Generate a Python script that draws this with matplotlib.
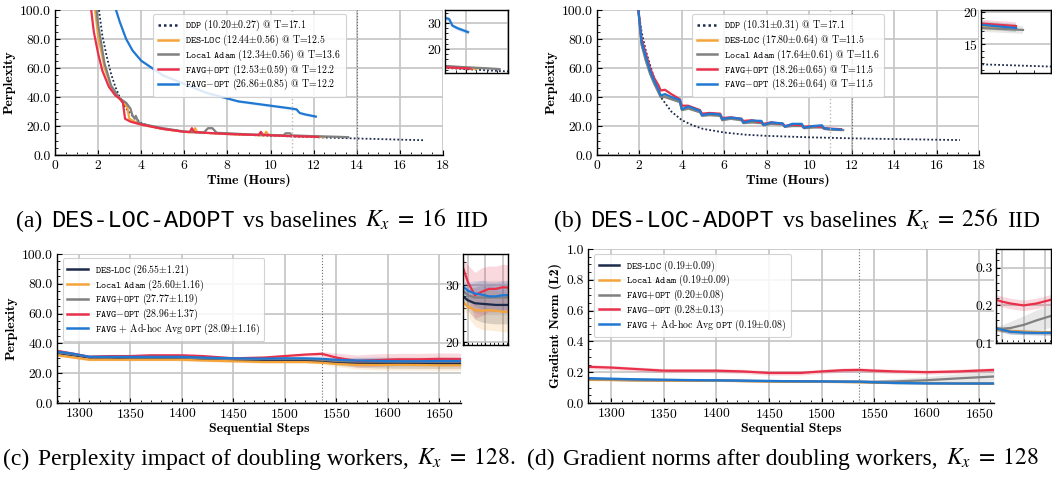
import numpy as np
import matplotlib
matplotlib.use("Agg")
import matplotlib.pyplot as plt
from matplotlib.ticker import AutoMinorLocator, FormatStrFormatter, MultipleLocator, NullFormatter

plt.rcParams['font.family'] = ['cmr10', 'DejaVu Serif']
plt.rcParams['mathtext.fontset'] = 'cm'
plt.rcParams['axes.unicode_minus'] = False
plt.rcParams['axes.formatter.use_mathtext'] = True

C_NAVY = '#1c2b4b'
C_ORANGE = '#f5a43a'
C_GRAY = '#808080'
C_RED = '#e8304b'
C_BLUE = '#1f78d2'

# ---------------- (a) K_x = 16 IID ----------------
a_ddp_t = [2.04, 2.2, 2.4, 2.6, 2.8, 3.0, 3.3, 3.6, 4.0, 4.5, 5.0, 6.0, 7.0, 8.0, 9.0, 10.0, 11.0, 12.0, 13.0, 14.0, 15.0, 16.0, 17.1]
a_ddp_v = [100, 82, 68, 56, 47, 40, 32, 27, 22, 19.5, 18, 16, 15.2, 14.5, 13.8, 13.3, 12.8, 12.3, 11.8, 11.4, 11.0, 10.6, 10.2]
a_des_t = [1.86, 2.0, 2.3, 2.6, 2.9, 3.2, 3.35, 3.45, 3.7, 4.0, 4.5, 5.0, 5.5, 6.0, 6.4, 6.5, 6.6, 7.0, 8.0, 9.0, 9.7, 9.8, 9.9, 10.0, 11.0, 12.0, 12.5]
a_des_v = [100, 82, 60, 47, 40, 36, 33, 25, 23, 21, 19.5, 18, 17, 16, 15.5, 18.5, 15.8, 15.3, 14.5, 14, 13.5, 16, 13.8, 13.8, 13.2, 12.8, 12.4]
a_loc_t = [1.93, 2.0, 2.3, 2.6, 3.0, 3.3, 3.5, 3.6, 3.7, 3.75, 3.85, 4.0, 5.0, 6.0, 6.9, 7.1, 7.3, 7.5, 8.0, 9.0, 10.0, 10.6, 10.7, 10.9, 11.0, 12.0, 13.0, 13.6]
a_loc_v = [100, 90, 63, 48, 39, 36, 32, 27, 25, 27, 23, 21.5, 18.5, 16.2, 15.5, 18.5, 18.5, 15.3, 15, 14.2, 13.8, 13.5, 15, 15, 13.5, 13, 12.6, 12.3]
a_fp_t = [1.68, 1.8, 2.0, 2.2, 2.5, 2.8, 3.0, 3.15, 3.25, 3.5, 4.0, 4.5, 5.0, 6.0, 6.25, 6.35, 6.45, 7.0, 8.0, 9.0, 9.45, 9.55, 9.65, 10.0, 11.0, 12.0, 12.2]
a_fp_v = [100, 85, 70, 58, 47, 41, 39, 36, 25, 23, 21, 19.5, 18, 16, 15.8, 18.5, 15.8, 15.3, 14.5, 14, 13.8, 16, 13.8, 13.6, 13, 12.6, 12.5]
a_fm_t = [2.83, 3.0, 3.3, 3.6, 4.0, 4.5, 5.0, 5.5, 6.0, 6.5, 7.0, 7.5, 8.0, 8.5, 9.0, 9.5, 10.0, 10.5, 11.0, 11.2, 11.35, 11.6, 12.1]
a_fm_v = [100, 92, 80, 72, 65, 60, 55, 52, 49, 46, 43, 41, 39, 37, 36, 35, 34, 33, 32, 31.5, 29, 28, 26.5]
a_labels = [r"$\mathtt{DDP}$ (10.20$\pm$0.27) @ T=17.1",
            r"$\mathtt{DES‐LOC}$ (12.44$\pm$0.56) @ T=12.5",
            r"$\mathtt{Local\ Adam}$ (12.34$\pm$0.56) @ T=13.6",
            r"$\mathtt{FAVG{+}OPT}$ (12.53$\pm$0.59) @ T=12.2",
            r"$\mathtt{FAVG{-}OPT}$ (26.86$\pm$0.85) @ T=12.2"]
a_band = [0.2, 0.5, 0.5, 0.5, 0.8]

# ---------------- (b) K_x = 256 IID ----------------
b_ddp_t = [1.95, 2.1, 2.3, 2.5, 2.8, 3.0, 3.5, 4.0, 4.5, 5.0, 6.0, 7.0, 8.0, 10.0, 12.0, 14.0, 17.1]
b_ddp_v = [100, 85, 72, 62, 48, 40, 30, 24, 20.5, 18, 15.5, 14, 13.2, 12.2, 11.5, 11, 10.3]
b_t = [1.95, 2.1, 2.3, 2.5, 2.7, 2.9, 3.0, 3.2, 3.5, 3.9, 4.0, 4.3, 4.85, 4.95, 5.3, 5.8, 5.9, 6.3, 6.8, 6.9,
       7.3, 7.75, 7.85, 8.2, 8.75, 8.85, 9.2, 9.65, 9.75, 10.2, 10.6, 10.7, 11.0, 11.5]
b_des_v = [100, 77, 66, 57, 50, 44, 40.5, 41, 39, 37, 31.5, 32.5, 30, 27.5, 28, 27.5, 24.5, 25.5, 24.5, 22.5,
           23, 22.5, 21, 22, 21.5, 19.8, 20.5, 20.5, 19, 19.5, 19.5, 18.3, 17.8, 17.5]
b_loc_v = [100, 76, 65, 56, 49, 43, 40, 40, 38.5, 36.5, 31, 32, 29.5, 27, 27.5, 27, 24, 25, 24, 22,
           22.5, 22, 20.5, 21.5, 21, 19.5, 20, 20, 18.5, 19, 19, 18, 17.5, 17.2]
b_fp_v = [100, 80, 70, 60, 53, 48, 44.5, 45, 42, 38.5, 34, 34, 31, 28.5, 29, 28.5, 25.5, 26, 25, 23.5,
          24, 22.5, 21.5, 22.5, 21.5, 20, 21, 20.5, 19.5, 20, 19.5, 18.5, 18.2, 17.8]
b_fm_v = [100, 78, 68, 58, 51, 45, 41, 42, 40, 38, 31.5, 33.5, 30.5, 27.5, 28.5, 28, 24.8, 25.8, 25, 22.3,
          23.8, 23.5, 20.7, 22.5, 21.8, 19.5, 21.5, 21.5, 18.8, 20, 20.5, 18.5, 18, 17.5]
b_labels = [r"$\mathtt{DDP}$ (10.31$\pm$0.31) @ T=17.1",
            r"$\mathtt{DES‐LOC}$ (17.80$\pm$0.64) @ T=11.5",
            r"$\mathtt{Local\ Adam}$ (17.64$\pm$0.61) @ T=11.6",
            r"$\mathtt{FAVG{+}OPT}$ (18.26$\pm$0.65) @ T=11.5",
            r"$\mathtt{FAVG{-}OPT}$ (18.26$\pm$0.64) @ T=11.5"]
b_band = [0.2, 0.6, 0.6, 0.6, 0.6]

# ---------------- (c) perplexity, doubling workers ----------------
c_steps = [1279, 1295, 1310, 1330, 1350, 1370, 1400, 1420, 1450, 1480, 1500, 1520, 1536, 1550, 1570, 1590, 1610, 1630, 1650, 1671]
c_des = [33.5, 32, 30.5, 30.5, 30, 30, 30, 29.5, 29, 28.5, 28.5, 28.5, 28.0, 27.3, 26.8, 26.7, 26.6, 26.5, 26.5, 26.5]
c_loc = [32, 30.5, 29, 29, 29, 29, 29, 28.5, 28, 27.5, 27.5, 27.5, 27.0, 26.2, 25.6, 25.5, 25.6, 25.5, 25.3, 25.3]
c_fp = [34, 32.5, 31, 31, 30.5, 30.5, 30.5, 30, 29.5, 29.5, 29.5, 29.5, 29.0, 28.2, 27.8, 27.8, 27.8, 27.8, 27.8, 27.8]
c_fm = [35, 33, 31, 31.5, 31.5, 32, 32, 31.5, 30, 30.5, 31.5, 32.5, 33.0, 30.5, 28.2, 28.8, 29.3, 29.3, 29.6, 29.5]
c_adhoc = [34.5, 33, 31, 31, 31, 31, 31, 30.5, 30, 29.8, 30, 30, 29.7, 29, 28.5, 28.3, 28, 28, 28.2, 28.2]
c_des_sd = [0.8, 0.8, 0.8, 0.8, 0.8, 0.8, 0.8, 0.8, 0.8, 0.8, 0.8, 0.8, 0.9, 1.8, 2.8, 3.2, 3.3, 3.3, 3.3, 3.3]
c_loc_sd = [0.8, 0.8, 0.8, 0.8, 0.8, 0.8, 0.8, 0.8, 0.8, 0.8, 0.8, 0.8, 0.9, 1.8, 2.8, 3.3, 3.5, 3.5, 3.5, 3.5]
c_fp_sd = [0.8, 0.8, 0.8, 0.8, 0.8, 0.8, 0.8, 0.8, 0.8, 0.8, 0.8, 0.8, 0.9, 1.8, 2.6, 3.0, 3.0, 3.0, 3.0, 3.0]
c_fm_sd = [1.0, 1.0, 1.0, 1.0, 1.0, 1.0, 1.0, 1.0, 1.0, 1.0, 1.0, 1.0, 1.5, 3.0, 4.0, 4.2, 4.0, 4.0, 4.0, 4.0]
c_adhoc_sd = [0.8, 0.8, 0.8, 0.8, 0.8, 0.8, 0.8, 0.8, 0.8, 0.8, 0.8, 0.8, 0.9, 1.5, 2.2, 2.5, 2.5, 2.5, 2.5, 2.5]
c_labels = [r"$\mathtt{DES‐LOC}$ (26.55$\pm$1.21)",
            r"$\mathtt{Local\ Adam}$ (25.60$\pm$1.16)",
            r"$\mathtt{FAVG{+}OPT}$ (27.77$\pm$1.19)",
            r"$\mathtt{FAVG{-}OPT}$ (28.96$\pm$1.37)",
            r"$\mathtt{FAVG}$ + Ad-hoc Avg $\mathtt{OPT}$ (28.09$\pm$1.16)"]

# ---------------- (d) gradient norms ----------------
d_steps = [1278, 1300, 1325, 1350, 1375, 1400, 1425, 1450, 1480, 1500, 1520, 1536, 1550, 1570, 1600, 1630, 1664]
d_des = [0.152, 0.150, 0.148, 0.147, 0.146, 0.145, 0.143, 0.141, 0.139, 0.138, 0.137, 0.136, 0.134, 0.131, 0.129, 0.128, 0.127]
d_loc = [0.150, 0.149, 0.147, 0.146, 0.145, 0.144, 0.142, 0.140, 0.138, 0.137, 0.136, 0.135, 0.134, 0.132, 0.130, 0.129, 0.128]
d_fp = [0.155, 0.153, 0.151, 0.150, 0.148, 0.147, 0.145, 0.143, 0.141, 0.140, 0.140, 0.140, 0.138, 0.140, 0.148, 0.160, 0.172]
d_fm = [0.235, 0.230, 0.220, 0.210, 0.210, 0.210, 0.205, 0.195, 0.195, 0.205, 0.213, 0.215, 0.210, 0.205, 0.200, 0.205, 0.215]
d_adhoc = [0.162, 0.158, 0.154, 0.151, 0.149, 0.147, 0.145, 0.143, 0.141, 0.140, 0.138, 0.138, 0.135, 0.130, 0.128, 0.127, 0.127]
d_small_sd = [0.004, 0.004, 0.004, 0.004, 0.004, 0.004, 0.004, 0.004, 0.004, 0.004, 0.004, 0.004, 0.005, 0.006, 0.006, 0.006, 0.006]
d_fp_sd = [0.004, 0.004, 0.004, 0.004, 0.004, 0.004, 0.004, 0.004, 0.004, 0.004, 0.004, 0.005, 0.010, 0.018, 0.024, 0.028, 0.030]
d_fm_sd = [0.014, 0.014, 0.014, 0.014, 0.014, 0.014, 0.014, 0.014, 0.014, 0.014, 0.014, 0.014, 0.014, 0.014, 0.014, 0.014, 0.014]
d_labels = [r"$\mathtt{DES‐LOC}$ (0.19$\pm$0.09)",
            r"$\mathtt{Local\ Adam}$ (0.19$\pm$0.09)",
            r"$\mathtt{FAVG{+}OPT}$ (0.20$\pm$0.08)",
            r"$\mathtt{FAVG{-}OPT}$ (0.28$\pm$0.13)",
            r"$\mathtt{FAVG}$ + Ad-hoc Avg $\mathtt{OPT}$ (0.19$\pm$0.08)"]

W, H = 1052, 483
TICK_FS = 9.8
LEG_FS = 7.1
LAB_FS = 10


def fpos(left, top, right, bottom):
    # pixel box -> figure fraction
    return [left / W, 1 - bottom / H, (right - left) / W, (bottom - top) / H]


def style_main(ax, xminor, yminor):
    ax.grid(True, color='#c4c4c4', lw=1.2, zorder=0)
    ax.set_axisbelow(True)
    for s in ['top', 'right']:
        ax.spines[s].set_visible(False)
    for s in ['left', 'bottom']:
        ax.spines[s].set_linewidth(1.0)
    ax.xaxis.set_minor_locator(AutoMinorLocator(xminor))
    ax.yaxis.set_minor_locator(AutoMinorLocator(yminor))
    ax.tick_params(which='both', direction='in', top=False, right=False, labelsize=TICK_FS, pad=3)
    ax.tick_params(which='major', length=3.5)
    ax.tick_params(which='minor', length=2)


def style_inset(ax, ymajor, yminor, xmajor):
    ax.grid(True, color='#c4c4c4', lw=1.2, zorder=0)
    ax.set_axisbelow(True)
    for s in ax.spines.values():
        s.set_linewidth(1.0)
    ax.yaxis.set_major_locator(MultipleLocator(ymajor))
    ax.yaxis.set_minor_locator(AutoMinorLocator(yminor))
    ax.xaxis.set_major_locator(MultipleLocator(xmajor))
    ax.xaxis.set_minor_locator(AutoMinorLocator(4))
    ax.xaxis.set_major_formatter(NullFormatter())
    ax.tick_params(which='both', direction='in', labelsize=TICK_FS, pad=2)
    ax.tick_params(which='major', length=3)
    ax.tick_params(which='minor', length=2)


def draw_curves(ax, series):
    for t, v, band, color, ls, label in series:
        t = np.array(t)
        v = np.array(v, dtype=float)
        band = np.array(band, dtype=float)
        if ls == ':':
            ax.plot(t, v, color=color, ls=(0, (1, 1.2)), lw=1.3, label=label)
        else:
            ax.fill_between(t, v - band, v + band, color=color, alpha=0.18, lw=0)
            ax.plot(t, v, color=color, lw=1.6, label=label)


def add_legend(ax, anchor):
    leg = ax.legend(loc='upper left', bbox_to_anchor=anchor, fontsize=LEG_FS, frameon=True,
                    fancybox=True, framealpha=0.85, edgecolor='#cccccc', borderaxespad=0,
                    labelspacing=-0.05, handlelength=2.1, handletextpad=0.7, borderpad=0.45)
    leg.get_frame().set_linewidth(0.8)
    for line in leg.get_lines():
        line.set_linewidth(1.8)
    return leg


fig = plt.figure(figsize=(W / 100, H / 100), dpi=100)

# ---- panel (a)
a_series = [
    (a_ddp_t, a_ddp_v, [a_band[0]] * len(a_ddp_t), C_NAVY, ':', a_labels[0]),
    (a_des_t, a_des_v, [a_band[1]] * len(a_des_t), C_ORANGE, '-', a_labels[1]),
    (a_loc_t, a_loc_v, [a_band[2]] * len(a_loc_t), C_GRAY, '-', a_labels[2]),
    (a_fp_t, a_fp_v, [a_band[3]] * len(a_fp_t), C_RED, '-', a_labels[3]),
    (a_fm_t, a_fm_v, [a_band[4]] * len(a_fm_t), C_BLUE, '-', a_labels[4]),
]
ax_a = fig.add_axes(fpos(55, 10, 443, 155))
draw_curves(ax_a, a_series)
ax_a.axvline(11, color='#b8b8b8', ls=':', lw=1.0)
ax_a.axvline(14, color='#707070', ls=':', lw=0.8)
ax_a.set_xlim(0, 18)
ax_a.set_ylim(0, 100)
ax_a.xaxis.set_major_locator(MultipleLocator(2))
ax_a.yaxis.set_major_locator(MultipleLocator(20))
ax_a.yaxis.set_major_formatter(FormatStrFormatter('%.1f'))
style_main(ax_a, 4, 4)
ax_a.set_xlabel('Time (Hours)', fontfamily='cmb10', fontsize=LAB_FS, labelpad=1)
ax_a.set_ylabel('Perplexity', fontfamily='cmb10', fontsize=LAB_FS, labelpad=3)
add_legend(ax_a, (0.253, 0.975))

ins_a = fig.add_axes(fpos(445, 10, 508, 73))
draw_curves(ins_a, a_series)
ins_a.set_xlim(11, 14)
ins_a.set_ylim(10.8, 35)
style_inset(ins_a, 10, 5, 2)

# ---- panel (b)
b_series = [
    (b_ddp_t, b_ddp_v, [b_band[0]] * len(b_ddp_t), C_NAVY, ':', b_labels[0]),
    (b_t, b_des_v, [b_band[1]] * len(b_t), C_ORANGE, '-', b_labels[1]),
    (b_t[:-1] + [11.6], b_loc_v, [b_band[2]] * len(b_t), C_GRAY, '-', b_labels[2]),
    (b_t, b_fp_v, [b_band[3]] * len(b_t), C_RED, '-', b_labels[3]),
    (b_t, b_fm_v, [b_band[4]] * len(b_t), C_BLUE, '-', b_labels[4]),
]
ax_b = fig.add_axes(fpos(597, 10, 979, 155))
draw_curves(ax_b, b_series)
ax_b.axvline(11, color='#b8b8b8', ls=':', lw=1.0)
ax_b.axvline(12, color='#707070', ls=':', lw=0.8)
ax_b.set_xlim(0, 18)
ax_b.set_ylim(0, 100)
ax_b.xaxis.set_major_locator(MultipleLocator(2))
ax_b.yaxis.set_major_locator(MultipleLocator(20))
ax_b.yaxis.set_major_formatter(FormatStrFormatter('%.1f'))
style_main(ax_b, 4, 4)
ax_b.set_xlabel('Time (Hours)', fontfamily='cmb10', fontsize=LAB_FS, labelpad=1)
ax_b.set_ylabel('Perplexity', fontfamily='cmb10', fontsize=LAB_FS, labelpad=3)
add_legend(ax_b, (0.249, 0.975))

ins_b = fig.add_axes(fpos(981, 10, 1051, 73))
draw_curves(ins_b, b_series)
ins_b.set_xlim(11, 12)
ins_b.set_ylim(10.5, 20.3)
style_inset(ins_b, 5, 5, 1)

# ---- panel (c)
c_series = [
    (c_steps, c_des, c_des_sd, C_NAVY, '-', c_labels[0]),
    (c_steps, c_loc, c_loc_sd, C_ORANGE, '-', c_labels[1]),
    (c_steps, c_fp, c_fp_sd, C_GRAY, '-', c_labels[2]),
    (c_steps, c_fm, c_fm_sd, C_RED, '-', c_labels[3]),
    (c_steps, c_adhoc, c_adhoc_sd, C_BLUE, '-', c_labels[4]),
]
ax_c = fig.add_axes(fpos(57, 254, 461, 403))
draw_curves(ax_c, c_series)
ax_c.axvline(1536, color='#707070', ls=':', lw=0.8)
ax_c.set_xlim(1278.6, 1671.3)
ax_c.set_ylim(0, 100)
ax_c.xaxis.set_major_locator(MultipleLocator(50))
ax_c.yaxis.set_major_locator(MultipleLocator(20))
ax_c.yaxis.set_major_formatter(FormatStrFormatter('%.1f'))
style_main(ax_c, 5, 4)
ax_c.set_xlabel('Sequential Steps', fontfamily='cmb10', fontsize=LAB_FS, labelpad=1)
ax_c.set_ylabel('Perplexity', fontfamily='cmb10', fontsize=LAB_FS, labelpad=3)
add_legend(ax_c, (0.015, 0.973))

ins_c = fig.add_axes(fpos(463, 254, 508, 345))
draw_curves(ins_c, c_series)
ins_c.set_xlim(1536, 1665)
ins_c.set_ylim(19.5, 35.4)
style_inset(ins_c, 10, 5, 50)

# ---- panel (d)
d_series = [
    (d_steps, d_des, d_small_sd, C_NAVY, '-', d_labels[0]),
    (d_steps, d_loc, d_small_sd, C_ORANGE, '-', d_labels[1]),
    (d_steps, d_fp, d_fp_sd, C_GRAY, '-', d_labels[2]),
    (d_steps, d_fm, d_fm_sd, C_RED, '-', d_labels[3]),
    (d_steps, d_adhoc, d_small_sd, C_BLUE, '-', d_labels[4]),
]
ax_d = fig.add_axes(fpos(588, 249, 994, 403))
draw_curves(ax_d, d_series)
ax_d.axvline(1536, color='#707070', ls=':', lw=0.8)
ax_d.set_xlim(1278, 1664)
ax_d.set_ylim(0, 1.0)
ax_d.xaxis.set_major_locator(MultipleLocator(50))
ax_d.yaxis.set_major_locator(MultipleLocator(0.2))
ax_d.yaxis.set_major_formatter(FormatStrFormatter('%.1f'))
style_main(ax_d, 5, 4)
ax_d.set_xlabel('Sequential Steps', fontfamily='cmb10', fontsize=LAB_FS, labelpad=1)
ax_d.set_ylabel('Gradient Norm (L2)', fontfamily='cmb10', fontsize=LAB_FS, labelpad=3)
add_legend(ax_d, (0.015, 0.968))

ins_d = fig.add_axes(fpos(996, 249, 1051, 343))
draw_curves(ins_d, d_series)
ins_d.set_xlim(1536, 1664)
ins_d.set_ylim(0.10, 0.35)
style_inset(ins_d, 0.1, 5, 50)
ins_d.yaxis.set_major_formatter(FormatStrFormatter('%.1f'))

# ---- captions, built from pieces so the typewriter part can use its own font
renderer = fig.canvas.get_renderer()
CAP_FS = 17
SERIF = dict(fontfamily='Liberation Serif')
MONO = dict(fontfamily='Liberation Mono')
MATH = dict(fontfamily='Liberation Serif', math_fontfamily='stix')


def add_caption(xc, y, pieces):
    gap = CAP_FS * 100 / 72 * 0.36
    texts = [fig.text(0, y / H, s, fontsize=CAP_FS, va='baseline', ha='left', **kw) for s, kw in pieces]
    widths = [t.get_window_extent(renderer).width for t in texts]
    x = xc - (sum(widths) + gap * (len(texts) - 1)) / 2
    for t, w in zip(texts, widths):
        t.set_x(x / W)
        x += w + gap


add_caption(252, 483 - 227, [('(a)', SERIF), ('DES-LOC-ADOPT', MONO), ('vs baselines', SERIF),
                             (r'$K_x\;=\;16$', MATH), ('IID', SERIF)])
add_caption(797, 483 - 227, [('(b)', SERIF), ('DES-LOC-ADOPT', MONO), ('vs baselines', SERIF),
                             (r'$K_x\;=\;256$', MATH), ('IID', SERIF)])
add_caption(259, 483 - 465, [('(c)', SERIF), ('Perplexity impact of doubling workers,', SERIF),
                             (r'$K_x\;=\;128.$', MATH)])
add_caption(783, 483 - 465, [('(d)', SERIF), ('Gradient norms after doubling workers,', SERIF),
                             (r'$K_x\;=\;128$', MATH)])

fig.savefig('out.png', dpi=100)
